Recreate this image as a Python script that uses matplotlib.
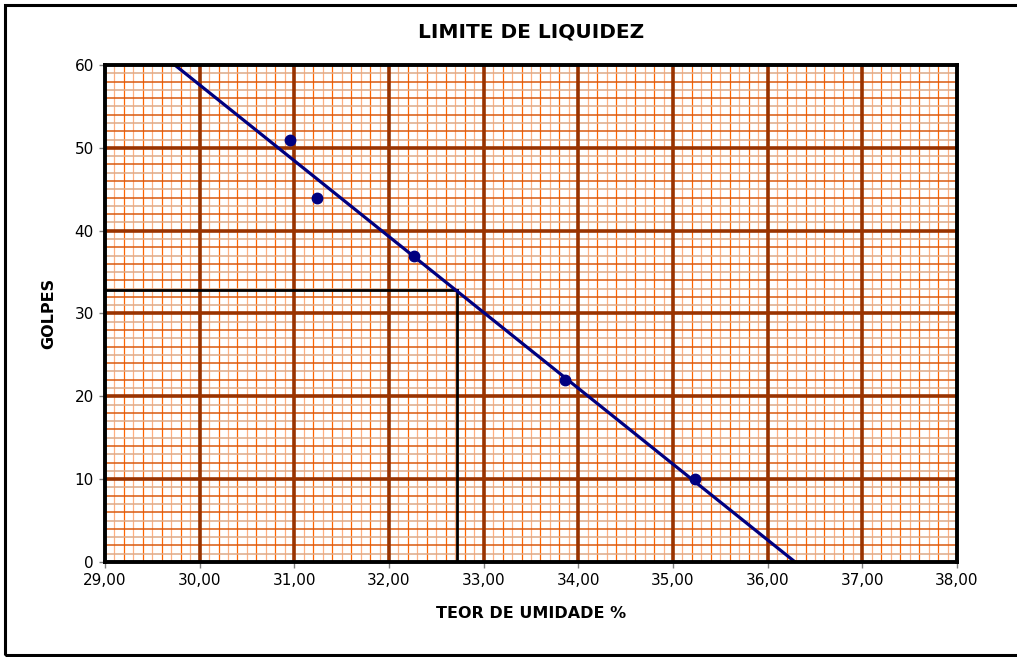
import numpy as np
import matplotlib
matplotlib.use("Agg")
import matplotlib.pyplot as plt
from matplotlib.patches import Rectangle

# Data
teor_umidade = [30.95, 31.24, 32.26, 33.86, 35.23]
golpes = [51, 44, 37, 22, 10]
limite_liquidez = 32.72
golpes_ref = 32.85
x_ticks = [29, 30, 31, 32, 33, 34, 35, 36, 37, 38]
y_ticks = [0, 10, 20, 30, 40, 50, 60]
x_tick_labels = ["29,00", "30,00", "31,00", "32,00", "33,00", "34,00", "35,00", "36,00", "37,00", "38,00"]

plt.rcParams['font.family'] = ['DejaVu Sans']

fig = plt.figure(figsize=(10.17, 6.57), dpi=100)
ax = fig.add_axes([0.1032, 0.1446, 0.8378, 0.7565])
ax.set_xlim(29, 38)
ax.set_ylim(0, 60)

# graph-paper grid
xs01 = np.round(np.arange(29, 38.001, 0.1), 2)
for v in xs01:
    if abs(v - round(v)) < 1e-6:
        continue
    k = int(round(v * 10))
    col = '#FF6600' if k % 2 == 0 else '#FFB080'
    ax.axvline(v, color=col, lw=0.9, zorder=1)
for v in range(1, 60):
    if v % 10 == 0:
        continue
    col = '#D85A10' if v % 2 == 0 else '#DDAA88'
    ax.axhline(v, color=col, lw=1.1, zorder=1)
for v in x_ticks[1:-1]:
    ax.axvline(v, color='#993300', lw=2.6, zorder=2)
for v in y_ticks[1:-1]:
    ax.axhline(v, color='#993300', lw=2.6, zorder=2)

# trend line
coef = np.polyfit(teor_umidade, golpes, 1)
xl = np.linspace(28, 39, 50)
ax.plot(xl, np.polyval(coef, xl), color='#000080', lw=2.3, zorder=4)
ax.plot(teor_umidade, golpes, 'o', color='#000080', ms=7.5, zorder=5)

# reference lines
ax.plot([29, limite_liquidez], [golpes_ref, golpes_ref], color='black', lw=2, zorder=3)
ax.plot([limite_liquidez, limite_liquidez], [0, golpes_ref], color='black', lw=2, zorder=3)

ax.set_xticks(x_ticks)
ax.set_xticklabels(x_tick_labels)
ax.set_yticks(y_ticks)
ax.tick_params(direction='out', length=4, width=1, color='#808080', labelsize=11, pad=4)
for s in ax.spines.values():
    s.set_linewidth(2.8)
    s.set_color('black')
    s.set_zorder(6)

ax.set_title("LIMITE DE LIQUIDEZ", fontsize=14.5, fontweight='bold', pad=20)
ax.set_xlabel("TEOR DE UMIDADE %", fontsize=11.5, fontweight='bold', labelpad=13)
ax.set_ylabel("GOLPES", fontsize=11.5, fontweight='bold', labelpad=13)

fig.patches.append(Rectangle((0.005, 0.003), 1.2, 0.99, transform=fig.transFigure,
                             fill=False, edgecolor='black', lw=2.2, zorder=0))

fig.savefig("out.png", dpi=100)
